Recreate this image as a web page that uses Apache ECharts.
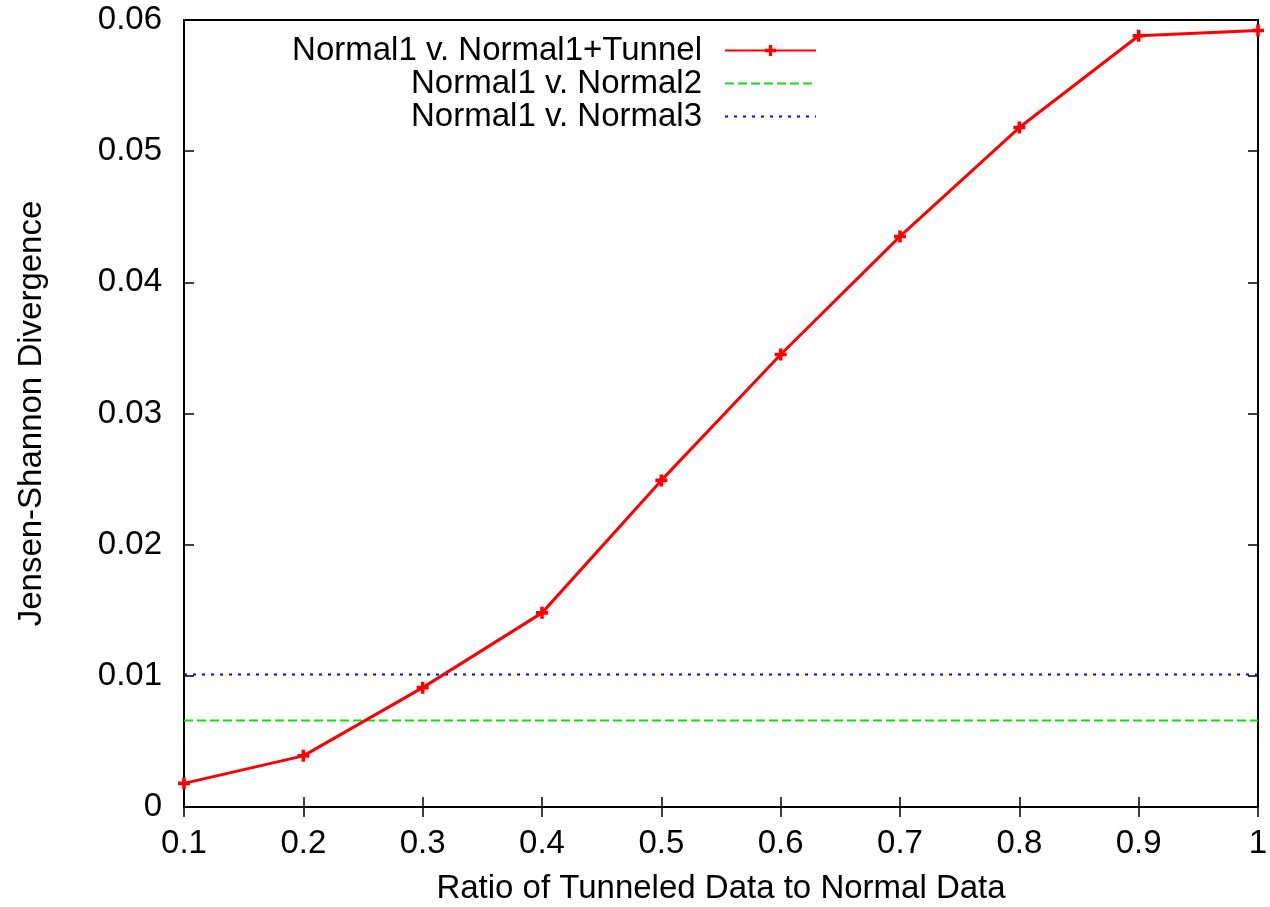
<!DOCTYPE html>
<html>
<head>
<meta charset="utf-8">
<script src="https://cdn.jsdelivr.net/npm/echarts@6/dist/echarts.min.js"></script>
<style>
    html, body { margin: 0; padding: 0; background: #fff; }
    #jsdChart { width: 1270px; height: 907px; }
</style>
</head>
<body>
<div id='jsdChart'></div>
<script>
// ratio of tunneled data to normal data
var ratios = [0.1, 0.2, 0.3, 0.4, 0.5, 0.6, 0.7, 0.8, 0.9, 1];
var tunnelJsd = [0.0018, 0.0039, 0.0091, 0.0148, 0.0249, 0.0345, 0.0435, 0.0518, 0.0588, 0.0592];
// the two reference comparisons are flat lines across the whole range
var flatX = [0.1, 1];
var normal2Jsd = [0.0066, 0.0066];
var normal3Jsd = [0.0101, 0.0101];
var xTicks = [0.1, 0.2, 0.3, 0.4, 0.5, 0.6, 0.7, 0.8, 0.9, 1];
var yTicks = [0, 0.01, 0.02, 0.03, 0.04, 0.05, 0.06];
var seriesNames = ['Normal1 v. Normal1+Tunnel', 'Normal1 v. Normal2', 'Normal1 v. Normal3'];

var font = "'Liberation Sans', Arial, Helvetica, sans-serif";
var fontSize = 33;
var plus = 'path://M3.5,0H6.5V3.5H10V6.5H6.5V10H3.5V6.5H0V3.5H3.5Z';

function pairs (xs, ys) {
    var out = [];
    for (var i = 0; i < xs.length; i++) {
        out.push([xs[i], ys[i]]);
    }
    return out;
}

var tickStyle = { inside: true, length: 10, lineStyle: { color: '#000', width: 1.5 } };

var myChart = echarts.init(document.getElementById('jsdChart'));
var option = {
    animation: false,
    textStyle: { fontFamily: font },
    grid: {
        left: 184,
        right: 12,
        top: 20,
        bottom: 100,
        outerBoundsMode: 'none',
        show: true,
        borderColor: '#000',
        borderWidth: 2
    },
    legend: {
        orient: 'vertical',
        align: 'right',
        right: 448,
        top: 29,
        itemWidth: 91,
        itemHeight: 14,
        itemGap: 0,
        data: [
            { name: seriesNames[0] },
            { name: seriesNames[1], itemStyle: { opacity: 0 } },
            { name: seriesNames[2], itemStyle: { opacity: 0 } }
        ],
        textStyle: {
            fontFamily: font,
            fontSize: fontSize,
            color: '#000',
            lineHeight: 33,
            padding: [0, 18, 0, 0]
        }
    },
    xAxis: [
        {
            type: 'value',
            min: xTicks[0],
            max: xTicks[xTicks.length - 1],
            interval: 0.1,
            name: 'Ratio of Tunneled Data to Normal Data',
            nameLocation: 'middle',
            nameGap: 65,
            nameTextStyle: { fontFamily: font, fontSize: fontSize, color: '#000' },
            axisLine: { lineStyle: { color: '#000', width: 2 } },
            axisTick: tickStyle,
            axisLabel: { fontFamily: font, fontSize: fontSize, color: '#000', margin: 20 },
            splitLine: { show: false }
        },
        {
            type: 'value',
            position: 'top',
            min: xTicks[0],
            max: xTicks[xTicks.length - 1],
            interval: 0.1,
            axisLine: { lineStyle: { color: '#000', width: 2 } },
            axisTick: tickStyle,
            axisLabel: { show: false },
            splitLine: { show: false }
        }
    ],
    yAxis: [
        {
            type: 'value',
            min: yTicks[0],
            max: yTicks[yTicks.length - 1],
            interval: 0.01,
            name: 'Jensen-Shannon Divergence',
            nameLocation: 'middle',
            nameGap: 136,
            nameTextStyle: { fontFamily: font, fontSize: fontSize, color: '#000' },
            axisLine: { show: true, lineStyle: { color: '#000', width: 2 } },
            axisTick: tickStyle,
            axisLabel: { fontFamily: font, fontSize: fontSize, color: '#000', margin: 22 },
            splitLine: { show: false }
        },
        {
            type: 'value',
            position: 'right',
            min: yTicks[0],
            max: yTicks[yTicks.length - 1],
            interval: 0.01,
            axisLine: { show: true, lineStyle: { color: '#000', width: 2 } },
            axisTick: tickStyle,
            axisLabel: { show: false },
            splitLine: { show: false }
        }
    ],
    series: [
        {
            name: seriesNames[0],
            type: 'line',
            data: pairs(ratios, tunnelJsd),
            symbol: plus,
            symbolSize: 12,
            showAllSymbol: true,
            itemStyle: { color: '#ff0000' },
            lineStyle: { color: '#ff0000', width: 3 },
            z: 5
        },
        {
            name: seriesNames[1],
            type: 'line',
            data: pairs(flatX, normal2Jsd),
            symbol: 'none',
            itemStyle: { color: '#11dd11' },
            lineStyle: { color: '#11dd11', width: 2, type: [9, 4] }
        },
        {
            name: seriesNames[2],
            type: 'line',
            data: pairs(flatX, normal3Jsd),
            symbol: 'none',
            itemStyle: { color: '#0000ff' },
            lineStyle: { color: '#0000ff', width: 2, type: [3, 6] }
        }
    ]
};
myChart.setOption(option);
</script>
</body>
</html>
